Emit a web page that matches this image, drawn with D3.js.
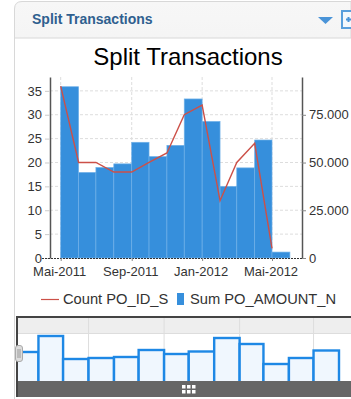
<!DOCTYPE html>
<html lang="en">
<head>
<meta charset="UTF-8">
<title>Split Transactions</title>
<script src="https://d3js.org/d3.v7.min.js"></script>
<style>
    html, body { margin: 0; padding: 0; background: #fff; overflow: hidden; }
    svg { display: block; font-family: "Liberation Sans", Arial, sans-serif; }
    .axis text { fill: #333; font-size: 13px; font-family: "Liberation Sans", Arial, sans-serif; }
    .grid line { stroke: #ddd; stroke-dasharray: 3,2; }
</style>
</head>
<body>
<svg width="351" height="399"></svg>
<script>
// chart data
const months = ["2011-05","2011-06","2011-07","2011-08","2011-09","2011-10","2011-11","2011-12","2012-01","2012-02","2012-03","2012-04","2012-05"];
const sumAmount = [89700,44800,47400,49300,60600,53100,59000,83300,71500,37500,47200,61800,3100];
const countIds = [36,20,20,18,18,20,22,30,32,12,20,24,2];
const overviewValues = [28,44,21,22,23,30,26,28.5,42,36,16,22,29.5];

const leftTicks = [0,5,10,15,20,25,30,35];
const rightTicks = [0,25000,50000,75000];
const rightLabels = ["0","25.000","50.000","75.000"];
const bottomTicks = ["2011-05","2011-09","2012-01","2012-05"];
const bottomLabels = ["Mai-2011","Sep-2011","Jan-2012","Mai-2012"];
const overviewGrid = ["2011-08","2011-11","2012-02","2012-05"];

const parseMonth = d3.timeParse("%Y-%m");
const svg = d3.select("svg");

// panel + header
const defs = svg.append("defs");
const grad = defs.append("linearGradient").attr("id", "head").attr("x1", 0).attr("x2", 0).attr("y1", 0).attr("y2", 1);
grad.append("stop").attr("offset", "0%").attr("stop-color", "#f7f7f7");
grad.append("stop").attr("offset", "100%").attr("stop-color", "#dedede");

svg.append("path")
    .attr("d", "M14.5 399 V9 Q14.5 1.5 22 1.5 H351 V38 H14.5")
    .attr("fill", "url(#head)")
    .attr("stroke", "#d8d8d8");
svg.append("text")
    .attr("x", 32).attr("y", 24)
    .attr("font-size", 14).attr("font-weight", "bold")
    .attr("fill", "#2f5f8f")
    .text("Split Transactions");
svg.append("path").attr("d", "M318 17 H333 L325.5 24 Z").attr("fill", "#4a94d8");
svg.append("rect").attr("x", 342).attr("y", 11).attr("width", 14).attr("height", 17)
    .attr("fill", "#f4f8fc").attr("stroke", "#5a9fdc").attr("stroke-width", 2);
svg.append("path").attr("d", "M346 19.5 H351 M348.500 17 V22").attr("stroke", "#4a94d8").attr("stroke-width", 2);

// title
svg.append("text")
    .attr("x", 188).attr("y", 65)
    .attr("text-anchor", "middle")
    .attr("font-size", 24)
    .attr("fill", "#000")
    .text("Split Transactions");

// scales
const x = d3.scaleTime()
    .domain([parseMonth("2011-05"), parseMonth("2012-05")])
    .range([60.7, 272]);
const yLeft = d3.scaleLinear().domain([0, 37.9]).range([258, 77]);
const yRight = d3.scaleLinear().domain([0, 94800]).range([258, 77]);

// grid
const grid = svg.append("g").attr("class", "grid");
grid.selectAll(".h").data(leftTicks.filter(d => d > 0)).join("line")
    .attr("x1", 50).attr("x2", 302)
    .attr("y1", d => yLeft(d)).attr("y2", d => yLeft(d));
grid.selectAll(".v").data(bottomTicks).join("line")
    .attr("x1", d => x(parseMonth(d))).attr("x2", d => x(parseMonth(d)))
    .attr("y1", 77).attr("y2", 258);

// bars
svg.append("g").selectAll("rect").data(months).join("rect")
    .attr("x", d => x(parseMonth(d)))
    .attr("width", d => x(d3.timeMonth.offset(parseMonth(d), 1)) - x(parseMonth(d)))
    .attr("y", (d, i) => yRight(sumAmount[i]))
    .attr("height", (d, i) => 258 - yRight(sumAmount[i]))
    .attr("fill", "#368fdc")
    .attr("stroke", "#6fb0e8")
    .attr("stroke-width", 0.7);

// line
const line = d3.line()
    .x(d => x(parseMonth(d)))
    .y((d, i) => yLeft(countIds[i]));
svg.append("path")
    .attr("d", line(months))
    .attr("fill", "none")
    .attr("stroke", "#cc5048")
    .attr("stroke-width", 1.4);

// axes
const leftAxis = svg.append("g").attr("class", "axis")
    .attr("transform", "translate(50,0)")
    .call(d3.axisLeft(yLeft).tickValues(leftTicks).tickSize(5).tickPadding(3).tickSizeOuter(0));
const rightAxis = svg.append("g").attr("class", "axis")
    .attr("transform", "translate(302,0)")
    .call(d3.axisRight(yRight).tickValues(rightTicks).tickFormat((d, i) => rightLabels[i]).tickSize(4).tickPadding(3).tickSizeOuter(0));
leftAxis.select(".domain").attr("stroke", "#555").attr("stroke-width", 1.5);
rightAxis.select(".domain").attr("stroke", "#555").attr("stroke-width", 1.5);
leftAxis.selectAll(".tick line").attr("stroke", "#ccc");
rightAxis.selectAll(".tick line").attr("stroke", "#888");

const bottomAxis = svg.append("g").attr("class", "axis")
    .attr("transform", "translate(0,258)")
    .call(d3.axisBottom(x)
        .tickValues(bottomTicks.map(parseMonth))
        .tickFormat((d, i) => bottomLabels[i])
        .tickSize(3).tickPadding(6).tickSizeOuter(0));
bottomAxis.select(".domain")
    .attr("d", "M42,0.5H302")
    .attr("stroke", "#333")
    .attr("stroke-dasharray", "2,1");
bottomAxis.selectAll(".tick line").attr("stroke", "#888");
bottomAxis.selectAll(".tick text").attr("dx", -1.5);

// legend
svg.append("line").attr("x1", 41).attr("x2", 59).attr("y1", 299.500).attr("y2", 299.500)
    .attr("stroke", "#cc5048").attr("stroke-width", 1.2);
svg.append("text").attr("x", 63).attr("y", 304).attr("font-size", 14.7).attr("fill", "#333").text("Count PO_ID_S");
svg.append("rect").attr("x", 177).attr("y", 293).attr("width", 7).attr("height", 12).attr("fill", "#368fdc");
svg.append("text").attr("x", 190).attr("y", 304).attr("font-size", 14.7).attr("fill", "#333").text("Sum PO_AMOUNT_N");

// overview strip
const ox = d3.scaleTime()
    .domain([parseMonth("2011-05"), parseMonth("2012-06")])
    .range([13, 339]);
const oy = d3.scaleLinear().domain([0, 50]).range([380, 330]);

defs.append("clipPath").attr("id", "strip").append("rect")
    .attr("x", 18).attr("y", 318).attr("width", 333).attr("height", 63);

svg.append("rect").attr("x", 18).attr("y", 318).attr("width", 333).attr("height", 15).attr("fill", "#eee");
svg.append("rect").attr("x", 18).attr("y", 333).attr("width", 333).attr("height", 48).attr("fill", "#fff");
svg.append("line").attr("x1", 18).attr("x2", 351).attr("y1", 333.500).attr("y2", 333.500).attr("stroke", "#ddd");

svg.append("g").selectAll("line").data(overviewGrid).join("line")
    .attr("x1", d => ox(parseMonth(d))).attr("x2", d => ox(parseMonth(d)))
    .attr("y1", 318).attr("y2", 381)
    .attr("stroke", "#ddd");

svg.append("g").attr("clip-path", "url(#strip)")
    .selectAll("rect").data(months).join("rect")
    .attr("x", d => ox(parseMonth(d)))
    .attr("width", d => ox(d3.timeMonth.offset(parseMonth(d), 1)) - ox(parseMonth(d)))
    .attr("y", (d, i) => oy(overviewValues[i]))
    .attr("height", (d, i) => 384 - oy(overviewValues[i]))
    .attr("fill", "#f0f7fe")
    .attr("stroke", "#1e88e5")
    .attr("stroke-width", 2.4);

svg.append("rect").attr("x", 16).attr("y", 381).attr("width", 335).attr("height", 16).attr("fill", "#666");
svg.append("path").attr("d", "M17 397 V317 H351").attr("fill", "none").attr("stroke", "#444").attr("stroke-width", 2);

// handle + grip
svg.append("rect").attr("x", 15.5).attr("y", 345.500).attr("width", 7).attr("height", 16).attr("rx", 2.500)
    .attr("fill", "#ddd").attr("stroke", "#aaa");
svg.append("path").attr("d", "M18 349 V358 M20 349 V358").attr("stroke", "#999");
const gripX = [182, 187, 192];
const gripY = [385, 390];
gripX.forEach(gx => gripY.forEach(gy => {
    svg.append("rect").attr("x", gx).attr("y", gy).attr("width", 3.500).attr("height", 3.500).attr("fill", "#fff");
}));
</script>
</body>
</html>
